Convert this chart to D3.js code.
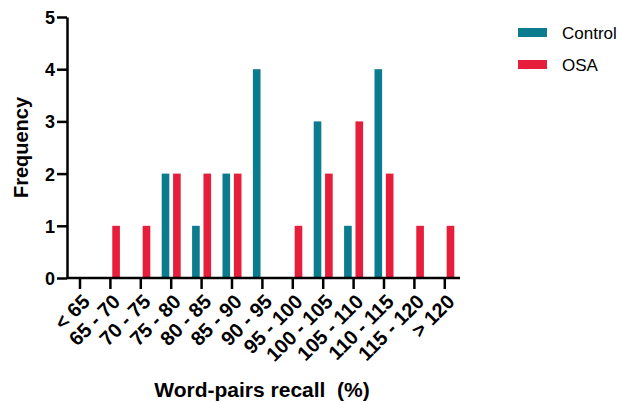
<!DOCTYPE html>
<html>
<head>
<meta charset="utf-8">
<script src="https://cdn.jsdelivr.net/npm/d3@7"></script>
<style>
  body { margin: 0; background: #fff; }
  svg text { font-family: "Liberation Sans", Arial, sans-serif; white-space: pre; }
  .axis path, .axis line { stroke: #000; stroke-width: 2.5; }
  .axis text { font-weight: bold; fill: #000; }
</style>
</head>
<body>
<svg width="619" height="403"></svg>
<script>
// bins on the x axis
var categories = ["< 65", "65 - 70", "70 - 75", "75 - 80", "80 - 85", "85 - 90", "90 - 95",
  "95 - 100", "100 - 105", "105 - 110", "110 - 115", "115 - 120", "> 120"];
var seriesNames = ["Control", "OSA"];
var control = [0, 0, 0, 2, 1, 2, 4, 0, 3, 1, 4, 0, 0];
var osa = [0, 1, 1, 2, 2, 2, 0, 1, 2, 3, 2, 1, 1];
var yTicks = [0, 1, 2, 3, 4, 5];
var colors = ["#0b7b8e", "#e61e3c"];

var svg = d3.select("svg");

// chart area (not "top": that name is taken by window.top)
var plotLeft = 67, plotTop = 17, plotBottom = 278;

var xScale = d3.scaleBand()
  .domain(categories)
  .range([64.8, 460]);

// two bars side by side around each tick
var xInner = d3.scaleBand()
  .domain(seriesNames)
  .range([-9.5, 9.5])
  .paddingInner(0.33);

var yScale = d3.scaleLinear()
  .domain([0, 5])
  .range([plotBottom, plotTop]);

var colorScale = d3.scaleOrdinal().domain(seriesNames).range(colors);

// rows of {cat, name, value}
var rows = [];
categories.forEach(function (c, i) {
  rows.push({ cat: c, name: "Control", value: control[i] });
  rows.push({ cat: c, name: "OSA", value: osa[i] });
});

svg.selectAll("rect.bar")
  .data(rows.filter(function (d) { return d.value > 0; }))
  .enter()
  .append("rect")
  .attr("class", "bar")
  .attr("x", function (d) { return xScale(d.cat) + xScale.bandwidth() / 2 + xInner(d.name); })
  .attr("y", function (d) { return yScale(d.value); })
  .attr("width", xInner.bandwidth())
  .attr("height", function (d) { return plotBottom - yScale(d.value); })
  .attr("fill", function (d) { return colorScale(d.name); });

// y axis
var yAxis = svg.append("g")
  .attr("class", "axis")
  .attr("transform", "translate(" + plotLeft + ",0)")
  .call(d3.axisLeft(yScale).tickValues(yTicks).tickSize(10).tickSizeOuter(0).tickFormat(d3.format("d")));
yAxis.selectAll("text").style("font-size", "18px").attr("x", -12).attr("dy", "0.36em");

// x axis
var xAxis = svg.append("g")
  .attr("class", "axis")
  .attr("transform", "translate(0," + plotBottom + ")")
  .call(d3.axisBottom(xScale).tickSize(11).tickSizeOuter(0));
xAxis.select(".domain").attr("d", "M" + plotLeft + ",0H460");
xAxis.selectAll("text")
  .style("font-size", "20px")
  .style("text-anchor", "end")
  .attr("x", 0)
  .attr("y", 0)
  .attr("dy", 0)
  .attr("transform", "translate(11,25) rotate(-45)");

// axis titles
svg.append("text")
  .attr("x", 262)
  .attr("y", 397)
  .attr("text-anchor", "middle")
  .style("font-size", "21px")
  .style("font-weight", "bold")
  .text("Word-pairs recall  (%)");

svg.append("text")
  .attr("transform", "translate(28," + ((plotTop + plotBottom) / 2) + ") rotate(-90)")
  .attr("text-anchor", "middle")
  .style("font-size", "20px")
  .style("font-weight", "bold")
  .text("Frequency");

// legend
var legend = svg.selectAll("g.legend")
  .data(seriesNames)
  .enter()
  .append("g")
  .attr("class", "legend")
  .attr("transform", function (d, i) { return "translate(518," + (28 + i * 32) + ")"; });

legend.append("rect")
  .attr("width", 29)
  .attr("height", 9)
  .attr("fill", function (d) { return colorScale(d); });

legend.append("text")
  .attr("x", 44)
  .attr("y", 11)
  .style("font-size", "17px")
  .text(function (d) { return d; });
</script>
</body>
</html>
